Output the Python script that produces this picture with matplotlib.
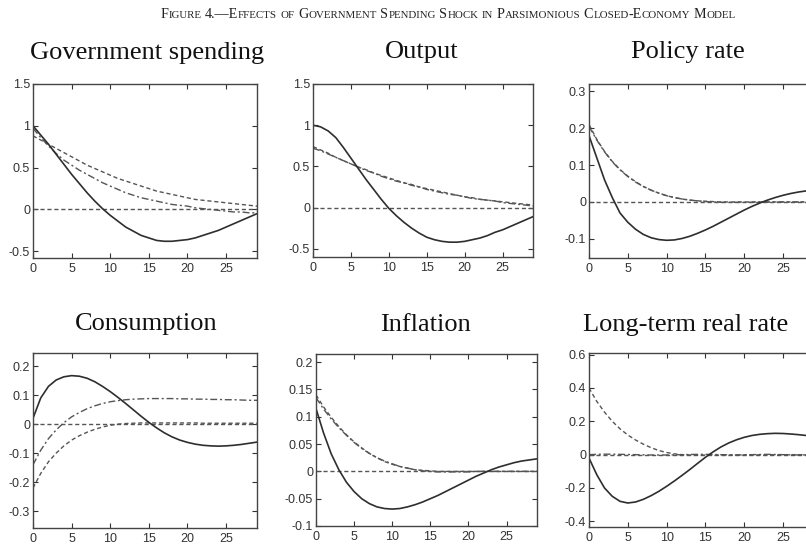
import matplotlib
matplotlib.use('Agg')
import matplotlib.pyplot as plt
import numpy as np

plt.rcParams['axes.unicode_minus'] = False

# horizon (quarters)
t = np.arange(30)

# --- Government spending
gov_solid = [1.00, 0.89, 0.78, 0.66, 0.54, 0.42, 0.31, 0.20, 0.10, 0.01,
             -0.07, -0.14, -0.21, -0.26, -0.31, -0.34, -0.37, -0.38, -0.38, -0.37,
             -0.36, -0.34, -0.31, -0.28, -0.25, -0.21, -0.17, -0.13, -0.09, -0.05]
gov_dash = [0.88, 0.83, 0.78, 0.73, 0.68, 0.63, 0.58, 0.53, 0.49, 0.45,
            0.41, 0.37, 0.34, 0.31, 0.28, 0.25, 0.22, 0.20, 0.18, 0.16,
            0.14, 0.12, 0.11, 0.10, 0.09, 0.08, 0.07, 0.06, 0.05, 0.04]
gov_dashdot = [0.97, 0.86, 0.76, 0.67, 0.59, 0.53, 0.47, 0.42, 0.37, 0.32,
               0.28, 0.24, 0.20, 0.17, 0.14, 0.12, 0.10, 0.08, 0.06, 0.05,
               0.04, 0.02, 0.01, 0.00, -0.01, -0.02, -0.03, -0.03, -0.04, -0.04]

# --- Output
out_solid = [1.00, 0.98, 0.93, 0.85, 0.73, 0.60, 0.47, 0.34, 0.22, 0.10,
             -0.01, -0.10, -0.18, -0.25, -0.31, -0.36, -0.39, -0.41, -0.42, -0.42,
             -0.41, -0.39, -0.37, -0.34, -0.30, -0.27, -0.23, -0.19, -0.15, -0.11]
out_dash = [0.74, 0.70, 0.66, 0.61, 0.57, 0.53, 0.49, 0.46, 0.42, 0.39,
            0.36, 0.33, 0.30, 0.28, 0.25, 0.23, 0.21, 0.19, 0.17, 0.15,
            0.13, 0.12, 0.10, 0.09, 0.08, 0.07, 0.06, 0.05, 0.04, 0.03]
out_dashdot = [0.72, 0.69, 0.65, 0.61, 0.57, 0.53, 0.49, 0.45, 0.42, 0.38,
               0.35, 0.32, 0.30, 0.27, 0.25, 0.22, 0.20, 0.18, 0.16, 0.15,
               0.13, 0.11, 0.10, 0.09, 0.08, 0.06, 0.05, 0.04, 0.03, 0.02]

# --- Policy rate
pol_solid = [0.18, 0.12, 0.06, 0.012, -0.03, -0.055, -0.074, -0.088, -0.097, -0.102,
             -0.104, -0.103, -0.099, -0.093, -0.085, -0.076, -0.066, -0.055, -0.044, -0.033,
             -0.022, -0.012, -0.003, 0.005, 0.012, 0.018, 0.023, 0.027, 0.030, 0.032]
pol_dash = [0.21, 0.17, 0.137, 0.11, 0.088, 0.070, 0.055, 0.042, 0.032, 0.024,
            0.017, 0.012, 0.008, 0.005, 0.003, 0.002, 0.001, 0.0, 0.0, 0.0,
            0.0, 0.0, 0.0, 0.0, 0.0, 0.0, 0.0, 0.0, 0.0, 0.0]
pol_dashdot = [0.205, 0.168, 0.136, 0.109, 0.087, 0.069, 0.054, 0.042, 0.032, 0.024,
               0.017, 0.012, 0.008, 0.005, 0.003, 0.001, 0.0, -0.001, -0.001, -0.001,
               -0.001, -0.001, 0.0, 0.0, 0.0, 0.0, 0.0, 0.0, 0.0, 0.0]

# --- Consumption
con_solid = [0.02, 0.09, 0.13, 0.152, 0.163, 0.167, 0.165, 0.158, 0.146, 0.130,
             0.112, 0.092, 0.071, 0.049, 0.027, 0.006, -0.013, -0.030, -0.044, -0.055,
             -0.063, -0.069, -0.073, -0.075, -0.076, -0.075, -0.073, -0.070, -0.066, -0.062]
con_dash = [-0.22, -0.17, -0.13, -0.10, -0.075, -0.055, -0.040, -0.028, -0.018, -0.010,
            -0.004, 0.0, 0.002, 0.003, 0.004, 0.004, 0.004, 0.004, 0.004, 0.004,
            0.004, 0.004, 0.003, 0.003, 0.003, 0.003, 0.003, 0.003, 0.003, 0.003]
con_dashdot = [-0.14, -0.09, -0.05, -0.02, 0.005, 0.025, 0.040, 0.053, 0.063, 0.071,
               0.077, 0.081, 0.084, 0.086, 0.087, 0.088, 0.088, 0.088, 0.088, 0.087,
               0.087, 0.086, 0.086, 0.085, 0.085, 0.084, 0.084, 0.083, 0.082, 0.082]

# --- Inflation
inf_solid = [0.115, 0.07, 0.032, 0.003, -0.020, -0.037, -0.050, -0.059, -0.065, -0.068,
             -0.069, -0.068, -0.065, -0.061, -0.056, -0.050, -0.044, -0.037, -0.030, -0.023,
             -0.016, -0.009, -0.003, 0.003, 0.008, 0.012, 0.016, 0.019, 0.021, 0.023]
inf_dash = [0.14, 0.118, 0.099, 0.082, 0.067, 0.054, 0.043, 0.033, 0.025, 0.018,
            0.013, 0.009, 0.006, 0.003, 0.002, 0.001, 0.0, 0.0, 0.0, 0.0,
            0.0, 0.0, 0.0, 0.0, 0.0, 0.0, 0.0, 0.0, 0.0, 0.0]
inf_dashdot = [0.135, 0.114, 0.096, 0.080, 0.066, 0.053, 0.042, 0.033, 0.025, 0.019,
               0.014, 0.009, 0.006, 0.003, 0.001, 0.0, -0.001, -0.001, -0.001, -0.001,
               -0.001, 0.0, 0.0, 0.0, 0.0, 0.0, 0.0, 0.0, 0.0, 0.0]

# --- Long-term real rate
ltr_solid = [-0.02, -0.12, -0.20, -0.25, -0.28, -0.29, -0.284, -0.268, -0.246, -0.220,
             -0.190, -0.158, -0.124, -0.089, -0.052, -0.016, 0.017, 0.046, 0.070, 0.089,
             0.104, 0.115, 0.122, 0.126, 0.128, 0.127, 0.124, 0.120, 0.115, 0.110]
ltr_dash = [0.40, 0.32, 0.255, 0.20, 0.155, 0.118, 0.088, 0.063, 0.042, 0.025,
            0.013, 0.005, 0.0, -0.002, -0.003, -0.003, -0.003, -0.002, -0.002, -0.002,
            -0.001, -0.001, -0.001, -0.001, 0.0, 0.0, 0.0, 0.0, 0.0, 0.0]
ltr_dashdot = [0.0, 0.002, 0.003, 0.003, 0.002, 0.001, 0.0, -0.001, -0.002, -0.002,
               -0.002, -0.001, 0.0, 0.001, 0.002, 0.002, 0.001, 0.0, -0.001, -0.002,
               -0.001, 0.0, 0.001, 0.002, 0.001, 0.0, -0.001, -0.002, -0.001, 0.0]

titles = ['Government spending', 'Output', 'Policy rate',
          'Consumption', 'Inflation', 'Long-term real rate']
series = [(gov_solid, gov_dash, gov_dashdot), (out_solid, out_dash, out_dashdot),
          (pol_solid, pol_dash, pol_dashdot), (con_solid, con_dash, con_dashdot),
          (inf_solid, inf_dash, inf_dashdot), (ltr_solid, ltr_dash, ltr_dashdot)]
ylims = [(-0.58, 1.5), (-0.6, 1.5), (-0.152, 0.32),
         (-0.358, 0.245), (-0.1, 0.215), (-0.434, 0.61)]
yticks = [[-0.5, 0, 0.5, 1, 1.5], [-0.5, 0, 0.5, 1, 1.5], [-0.1, 0, 0.1, 0.2, 0.3],
          [-0.3, -0.2, -0.1, 0, 0.1, 0.2], [-0.1, -0.05, 0, 0.05, 0.1, 0.15, 0.2],
          [-0.4, -0.2, 0, 0.2, 0.4, 0.6]]

W, H = 806, 545
# axes boxes in pixels: left, top, right, bottom
boxes = [(33, 84, 257, 258), (313, 84, 533, 257), (589, 84, 814, 258),
         (33, 353, 257, 528), (316, 354, 537, 526), (589, 353, 814, 527)]
# title centre x and baseline y in pixels
title_pos = [(147, 59), (422, 58), (688, 58), (146, 330), (425, 331), (686, 331)]

fig = plt.figure(figsize=(W / 100, H / 100), dpi=100)

solid_c = '#2e2e2e'
dash_c = '#555555'

for i in range(6):
    l, tp, r, b = boxes[i]
    ax = fig.add_axes([l / W, 1 - b / H, (r - l) / W, (b - tp) / H])
    s, d, dd = series[i]
    ax.axhline(0, color=dash_c, lw=1.0, ls=(0, (3, 2)))
    ax.plot(t, d, color=dash_c, lw=1.0, ls=(0, (3, 2)))
    ax.plot(t, dd, color=dash_c, lw=1.0, ls=(0, (5, 2, 1.5, 2)))
    ax.plot(t, s, color=solid_c, lw=1.2)
    ax.set_xlim(0, 29)
    ax.set_ylim(*ylims[i])
    ax.set_xticks([0, 5, 10, 15, 20, 25])
    ax.set_yticks(yticks[i])
    ax.set_yticklabels(['%g' % v for v in yticks[i]])
    ax.tick_params(direction='in', length=3.5, width=0.8, top=True, right=True,
                   labelsize=9, colors='#333333', pad=2)
    ax.tick_params(axis='x', pad=3.5)
    for lab in ax.get_xticklabels() + ax.get_yticklabels():
        lab.set_fontfamily('Liberation Sans')
    for sp in ax.spines.values():
        sp.set_color('#444444')
        sp.set_linewidth(1.0)
    cx, cy = title_pos[i]
    fig.text(cx / W, 1 - cy / H, titles[i], ha='center', va='baseline',
             fontsize=19, family='Liberation Serif', color='#111111')


def small_caps(text, xc, yb, big, small):
    # draw text in small caps, centred at xc (px), baseline yb (px)
    r = fig.canvas.get_renderer()
    pieces = []
    space = big * 0.25 * 100 / 72
    for wi, word in enumerate(text.split(' ')):
        runs = []
        for ch in word:
            up = not ch.islower()
            if runs and runs[-1][1] == up:
                runs[-1][0] += ch
            else:
                runs.append([ch, up])
        for k, (s, up) in enumerate(runs):
            a = fig.text(0, 1 - yb / H, s.upper(), fontsize=big if up else small,
                         family='Liberation Serif', va='baseline', color='#222222')
            pieces.append((a, space if (k == len(runs) - 1) else 0))
    widths = [a.get_window_extent(r).width + g for a, g in pieces]
    total = sum(widths) - pieces[-1][1]
    x = xc - total / 2
    for (a, g), w in zip(pieces, widths):
        a.set_x(x / W)
        x += w


small_caps('Figure 4.\u2014Effects of Government Spending Shock in Parsimonious '
           'Closed-Economy Model', 448, 18, 10.2, 7.85)

fig.savefig('out.png', dpi=100)
